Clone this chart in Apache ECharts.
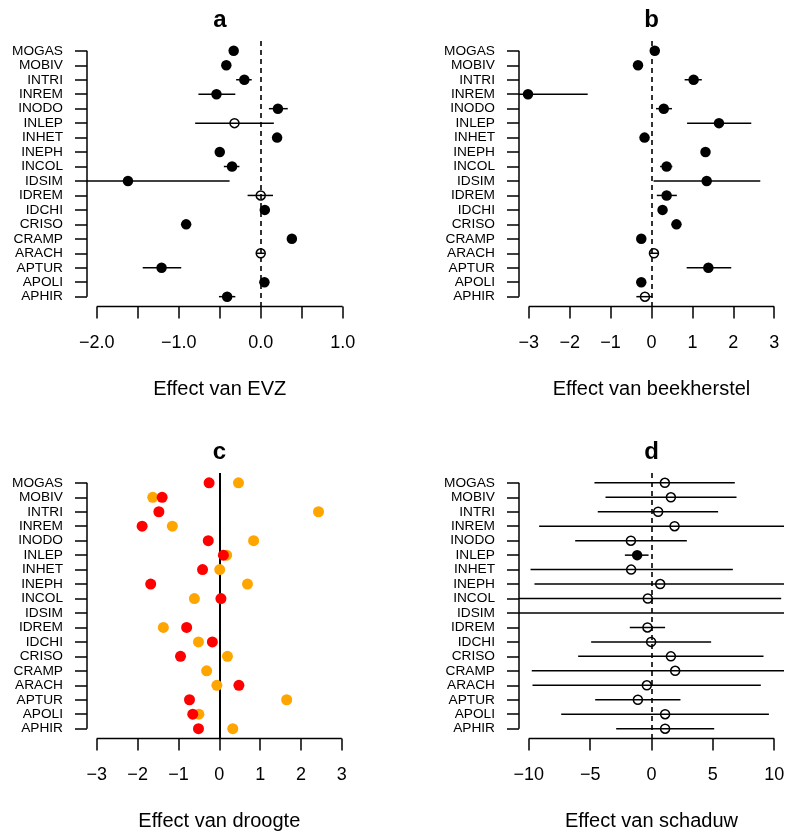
<!DOCTYPE html>
<html><head><meta charset="utf-8">
<script src="https://cdn.jsdelivr.net/npm/echarts@6/dist/echarts.min.js"></script>
<style>html,body{margin:0;padding:0;background:#fff}#c{width:788px;height:837px}</style>
</head><body><div id="c"></div>
<script>
const species = ['MOGAS','MOBIV','INTRI','INREM','INODO','INLEP','INHET','INEPH','INCOL','IDSIM','IDREM','IDCHI','CRISO','CRAMP','ARACH','APTUR','APOLI','APHIR'];

// a: Effect van EVZ
const evzEst  = [-0.33,-0.42,-0.20,-0.54, 0.21,-0.32, 0.20,-0.50,-0.35,-1.62, 0.00, 0.05,-0.91, 0.38, 0.00,-1.21, 0.045,-0.41];
const evzLow  = [-0.37,-0.46,-0.30,-0.76, 0.10,-0.80, 0.16,-0.54,-0.45,-2.30,-0.16, 0.01,-0.95, 0.34,-0.05,-1.44, 0.005,-0.51];
const evzHigh = [-0.29,-0.38,-0.11,-0.31, 0.33, 0.16, 0.24,-0.46,-0.26,-0.38, 0.15, 0.09,-0.87, 0.42, 0.05,-0.97, 0.085,-0.31];
const evzSig  = [1,1,1,1,1,0,1,1,1,1,0,1,1,1,0,1,1,1];
const evzTicks = [-2,-1.5,-1,-0.5,0,0.5,1];
const evzLabels = [-2,-1,0,1];

// b: Effect van beekherstel
const bhEst  = [0.08,-0.33,1.03,-3.02,0.30,1.65,-0.17,1.32,0.37,1.35,0.37,0.27,0.61,-0.25,0.06,1.39,-0.25,-0.16];
const bhLow  = [0.00,-0.41,0.81,-3.30,0.11,0.87,-0.25,1.24,0.21,0.05,0.13,0.19,0.53,-0.33,-0.04,0.86,-0.33,-0.37];
const bhHigh = [0.16,-0.25,1.23,-1.56,0.50,2.44,-0.09,1.40,0.51,2.66,0.62,0.35,0.69,-0.17,0.16,1.95,-0.17,0.02];
const bhSig  = [1,1,1,1,1,1,1,1,1,1,1,1,1,1,0,1,1,0];
const bhTicks = [-3,-2,-1,0,1,2,3];

// c: Effect van droogte (two estimates per species)
const drOrange = [0.47,-1.63,2.43,-1.15,0.84,0.18,0.01,0.69,-0.61,null,-1.37,-0.51,0.20,-0.31,-0.06,1.65,-0.50,0.33];
const drRed    = [-0.25,-1.40,-1.48,-1.89,-0.27,0.10,-0.41,-1.68,0.04,null,-0.80,-0.17,-0.95,null,0.48,-0.73,-0.65,-0.51];
const drTicks = [-3,-2,-1,0,1,2,3];

// d: Effect van schaduw
const shEst  = [1.09,1.58,0.54,1.88,-1.68,-1.17,-1.66,0.71,-0.30,null,-0.33,-0.03,1.58,1.93,-0.38,-1.11,1.11,1.11];
const shLow  = [-4.65,-3.75,-4.38,-9.16,-6.22,-2.17,-9.86,-9.54,-12.0,-12.0,-1.77,-4.92,-5.98,-9.76,-9.70,-4.59,-7.36,-2.88];
const shHigh = [6.79,6.93,5.43,12.0,2.88,-0.24,6.63,12.0,10.57,12.0,1.11,4.86,9.13,12.0,8.91,2.36,9.57,5.11];
const shSig  = [0,0,0,0,0,1,0,0,0,0,0,0,0,0,0,0,0,0];
const shTicks = [-10,-5,0,5,10];

const FF = '"Liberation Sans", Arial, Helvetica, sans-serif';
const rows = species.map((s, i) => i + 1);
const yExt = 0.04 * (rows.length - 1);

const grids = [
  {left: 87, top: 41, width: 265.5, height: 265.5},
  {left: 519, top: 41, width: 265, height: 265.5},
  {left: 87, top: 473, width: 264.6, height: 265.5},
  {left: 519, top: 473, width: 265, height: 265.5}
];

function fmt(v, dec) {
  return (v < 0 ? '\u2212' : '') + Math.abs(v).toFixed(dec);
}

function xAx(k, ticks, labels, dec, name) {
  const mn = ticks[0], mx = ticks[ticks.length - 1];
  const ext = (mx - mn) * 0.04;
  return {
    gridIndex: k, type: 'value', min: mn - ext, max: mx + ext, position: 'bottom',
    splitLine: {show: false}, axisLine: {show: false, onZero: false},
    axisTick: {show: true, customValues: ticks, length: 12, lineStyle: {color: '#000', width: 1.5}},
    axisLabel: {customValues: labels, formatter: v => fmt(v, dec), fontSize: 18, color: '#000', margin: 28, fontFamily: FF},
    name: name, nameLocation: 'middle', nameGap: 73,
    nameTextStyle: {fontSize: 20, color: '#000', fontFamily: FF}
  };
}
function yAx(k) {
  return {
    gridIndex: k, type: 'value', inverse: true, min: 1 - yExt, max: rows.length + yExt, position: 'left',
    splitLine: {show: false}, axisLine: {show: false, onZero: false},
    axisTick: {show: true, customValues: rows, length: 12, lineStyle: {color: '#000', width: 1.5}},
    axisLabel: {customValues: rows, formatter: v => species[Math.round(v) - 1], fontSize: 13.7, color: '#000', margin: 24, fontFamily: FF}
  };
}

function axisLines(k, ticks, dashed) {
  const mn = ticks[0], mx = ticks[ticks.length - 1];
  const ext = (mx - mn) * 0.04;
  return [
    {type: 'line', xAxisIndex: k, yAxisIndex: k, silent: true, clip: false, symbol: 'none', z: 3,
     lineStyle: {color: '#000', width: 1.5},
     data: [[mn, rows.length + yExt], [mx, rows.length + yExt]],
     markLine: {silent: true, symbol: 'none', label: {show: false},
       lineStyle: {color: '#000', width: dashed ? 1.6 : 2, type: dashed ? [5, 4] : 'solid'},
       data: [{xAxis: 0}]}},
    {type: 'line', xAxisIndex: k, yAxisIndex: k, silent: true, clip: false, symbol: 'none', z: 3,
     lineStyle: {color: '#000', width: 1.5},
     data: [[mn - ext, 1], [mn - ext, rows.length]]}
  ];
}

function errBars(k, lo, hi) {
  return {
    type: 'custom', xAxisIndex: k, yAxisIndex: k, silent: true, z: 4,
    data: lo.map((l, i) => [l, hi[i], i + 1]),
    encode: {x: [0, 1], y: 2},
    renderItem: function (params, api) {
      const cs = params.coordSys;
      const p1 = api.coord([api.value(0), api.value(2)]);
      const p2 = api.coord([api.value(1), api.value(2)]);
      const x1 = Math.max(cs.x, Math.min(cs.x + cs.width, p1[0]));
      const x2 = Math.max(cs.x, Math.min(cs.x + cs.width, p2[0]));
      return {type: 'line', shape: {x1: x1, y1: p1[1], x2: x2, y2: p2[1]},
              style: {stroke: '#000', lineWidth: 1.5}};
    }
  };
}

function points(k, est, sig) {
  const filled = [], open = [];
  est.forEach((v, i) => {
    if (v === null) return;
    (sig[i] ? filled : open).push([v, i + 1]);
  });
  return [
    {type: 'scatter', xAxisIndex: k, yAxisIndex: k, silent: true, z: 5, symbol: 'circle', symbolSize: 10.5,
     itemStyle: {color: '#000', opacity: 1}, data: filled},
    {type: 'scatter', xAxisIndex: k, yAxisIndex: k, silent: true, z: 5, symbol: 'circle', symbolSize: 9,
     itemStyle: {color: 'rgba(0,0,0,0)', borderColor: '#000', borderWidth: 1.5, opacity: 1}, data: open}
  ];
}

function colPoints(k, vals, color) {
  return {type: 'scatter', xAxisIndex: k, yAxisIndex: k, silent: true, z: 5, symbol: 'circle', symbolSize: 11,
    itemStyle: {color: color, opacity: 1},
    data: vals.map((v, i) => v === null ? null : [v, i + 1]).filter(d => d)};
}

const titleStyle = {fontSize: 24, fontWeight: 'bold', color: '#000', fontFamily: FF};
const option = {
  animation: false,
  backgroundColor: '#fff',
  title: [
    {text: 'a', left: 219.8, top: 8, textAlign: 'center', padding: 0, textStyle: titleStyle},
    {text: 'b', left: 651.5, top: 8, textAlign: 'center', padding: 0, textStyle: titleStyle},
    {text: 'c', left: 219.3, top: 440, textAlign: 'center', padding: 0, textStyle: titleStyle},
    {text: 'd', left: 651.5, top: 440, textAlign: 'center', padding: 0, textStyle: titleStyle}
  ],
  grid: grids,
  xAxis: [
    xAx(0, evzTicks, evzLabels, 1, 'Effect van EVZ'),
    xAx(1, bhTicks, bhTicks, 0, 'Effect van beekherstel'),
    xAx(2, drTicks, drTicks, 0, 'Effect van droogte'),
    xAx(3, shTicks, shTicks, 0, 'Effect van schaduw')
  ],
  yAxis: [yAx(0), yAx(1), yAx(2), yAx(3)],
  series: [].concat(
    axisLines(0, evzTicks, true), [errBars(0, evzLow, evzHigh)], points(0, evzEst, evzSig),
    axisLines(1, bhTicks, true), [errBars(1, bhLow, bhHigh)], points(1, bhEst, bhSig),
    axisLines(2, drTicks, false), [colPoints(2, drOrange, '#FFA500'), colPoints(2, drRed, '#FF0000')],
    axisLines(3, shTicks, true), [errBars(3, shLow, shHigh)], points(3, shEst, shSig)
  )
};
const chart = echarts.init(document.getElementById('c'), null, {renderer: 'canvas'});
chart.setOption(option);
</script>
</body></html>
